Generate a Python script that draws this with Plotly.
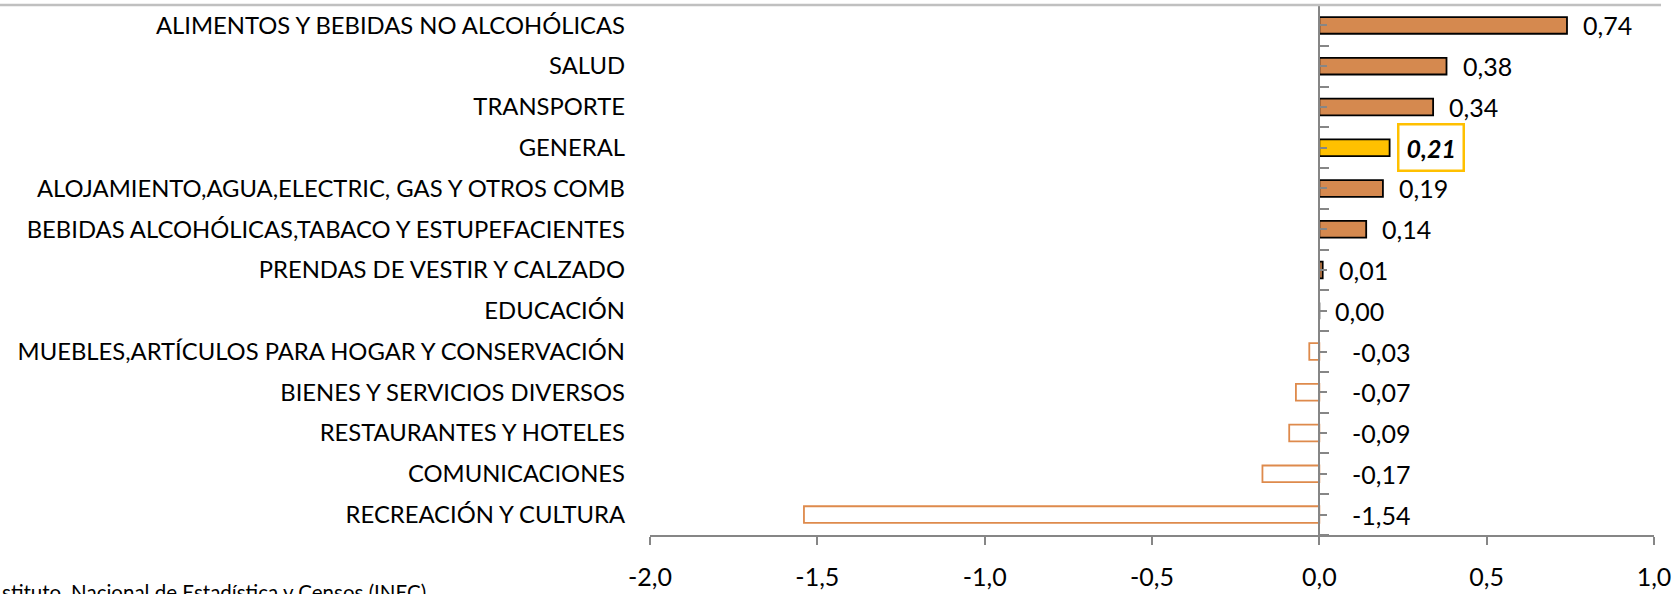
import plotly.graph_objects as go

# data, top to bottom as in the chart
categories = [
    "ALIMENTOS Y BEBIDAS NO ALCOHÓLICAS",
    "SALUD",
    "TRANSPORTE",
    "GENERAL",
    "ALOJAMIENTO,AGUA,ELECTRIC, GAS Y OTROS COMB",
    "BEBIDAS ALCOHÓLICAS,TABACO Y ESTUPEFACIENTES",
    "PRENDAS DE VESTIR Y CALZADO",
    "EDUCACIÓN",
    "MUEBLES,ARTÍCULOS PARA HOGAR Y CONSERVACIÓN",
    "BIENES Y SERVICIOS DIVERSOS",
    "RESTAURANTES Y HOTELES",
    "COMUNICACIONES",
    "RECREACIÓN Y CULTURA",
]
values = [0.74, 0.38, 0.34, 0.21, 0.19, 0.14, 0.01, 0.00, -0.03, -0.07, -0.09, -0.17, -1.54]
x_ticks = [-2.0, -1.5, -1.0, -0.5, 0.0, 0.5, 1.0]
highlight = "GENERAL"
source = "stituto, Nacional de Estadística y Censos (INEC)"

FONT = "Lato"
ORANGE = "#D5894F"
GOLD = "#FFC000"
AXIS = "#868686"


def fmt(v, d=2):
    return f"{v:.{d}f}".replace(".", ",")


fill = []
line_col = []
for c, v in zip(categories, values):
    if c == highlight:
        fill.append(GOLD)
        line_col.append("black")
    elif v >= 0:
        fill.append(ORANGE)
        line_col.append("black")
    else:
        fill.append("white")
        line_col.append("#DE8A4C")

fig = go.Figure()
fig.add_trace(go.Bar(
    y=categories, x=values, orientation="h", width=0.41,
    marker=dict(color=fill, line=dict(color=line_col, width=1.8)),
    hoverinfo="skip",
))

annotations = []
for c, v in zip(categories, values):
    if c == highlight:
        annotations.append(dict(
            x=v, y=c, xref="x", yref="y", text=f"<b><i>{fmt(v)}</i></b>",
            showarrow=False, xanchor="left", xshift=7,
            bordercolor=GOLD, borderwidth=2.5, borderpad=7,
            font=dict(family=FONT, size=25, color="black"),
        ))
    elif v >= 0:
        annotations.append(dict(
            x=v, y=c, xref="x", yref="y", text=fmt(v),
            showarrow=False, xanchor="left", xshift=14,
            font=dict(family=FONT, size=25, color="black"),
        ))
    else:
        annotations.append(dict(
            x=0, y=c, xref="x", yref="y", text=fmt(v),
            showarrow=False, xanchor="left", xshift=31,
            font=dict(family=FONT, size=25, color="black"),
        ))

# source line, cut by the bottom/left edge as in the original
annotations.append(dict(
    x=0, y=0, xref="paper", yref="paper", xanchor="left", yanchor="top",
    xshift=-650, yshift=-43, text=source, showarrow=False,
    font=dict(family=FONT, size=20.5, color="black"),
))

n = len(categories)
fig.update_layout(
    width=1674, height=594,
    margin=dict(l=650, r=20, t=5, b=59),
    paper_bgcolor="white", plot_bgcolor="white",
    showlegend=False,
    font=dict(family=FONT, size=24, color="black"),
    xaxis=dict(
        range=[-2, 1], tickvals=x_ticks, ticktext=[fmt(t, 1) for t in x_ticks],
        showline=True, linecolor=AXIS, linewidth=2,
        ticks="outside", ticklen=8, tickwidth=2, tickcolor=AXIS,
        ticklabelstandoff=11, tickfont=dict(size=25),
        showgrid=False, zeroline=False, fixedrange=True, automargin=False,
    ),
    yaxis=dict(
        range=[n - 0.5, -0.5], categoryorder="array", categoryarray=categories,
        showline=False, ticks="", showgrid=False, zeroline=False,
        ticklabelstandoff=24, tickfont=dict(size=23.8), automargin=False,
    ),
    # vertical axis drawn at x = 0
    yaxis2=dict(
        overlaying="y", anchor="free", position=2 / 3, side="right",
        range=[n - 0.5, -0.5], tick0=-0.5, dtick=1,
        showline=True, linecolor=AXIS, linewidth=2,
        ticks="outside", ticklen=9, tickwidth=2, tickcolor=AXIS,
        minor=dict(ticks="outside", tick0=0, dtick=1, ticklen=7, tickwidth=2, tickcolor=AXIS),
        showticklabels=False, showgrid=False, zeroline=False, automargin=False,
    ),
    annotations=annotations,
    shapes=[dict(type="line", xref="paper", yref="paper", x0=-650 / 1004, x1=1.007,
                 y0=1.0, y1=1.0, line=dict(color="#C0C0C0", width=2.5))],
)
# dummy trace so that yaxis2 is drawn
fig.add_trace(go.Scatter(x=[None], y=[None], yaxis="y2", hoverinfo="skip"))

# drop the browser's default page margin so the figure fills the window
fig.write_html("out.html", config={"displayModeBar": False},
               post_script="document.body.style.margin = '0';")
